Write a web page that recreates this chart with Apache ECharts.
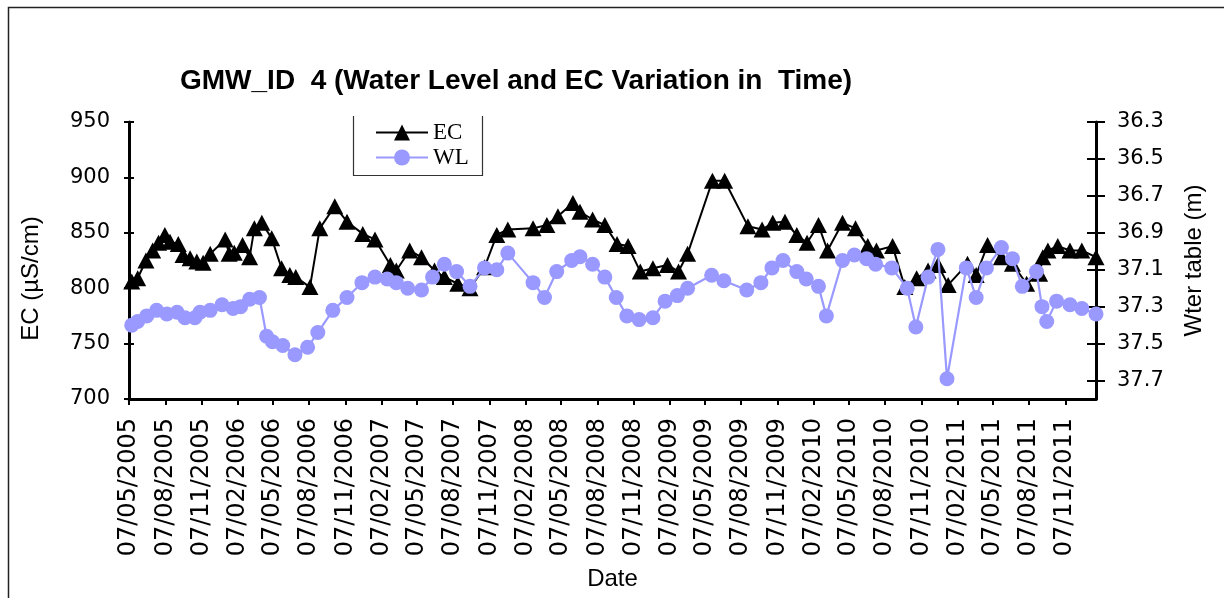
<!DOCTYPE html>
<html><head><meta charset="utf-8">
<script src="https://cdn.jsdelivr.net/npm/echarts@6/dist/echarts.min.js"></script>
<style>html,body{margin:0;padding:0;background:#fff}#c{width:1224px;height:598px}</style>
</head><body><div id="c"></div>
<script>
// ---- data ----
const ecDates = [
'2005-05-14','2005-05-29','2005-06-19','2005-07-06','2005-07-21','2005-08-06','2005-08-19','2005-09-09','2005-09-21','2005-10-09',
'2005-10-26','2005-11-11','2005-11-29','2006-01-06','2006-01-16','2006-01-29','2006-02-19','2006-03-09','2006-03-21','2006-04-09',
'2006-05-04','2006-05-29','2006-06-19','2006-07-04','2006-08-09','2006-09-03','2006-10-11','2006-11-11','2006-12-21','2007-01-21',
'2007-03-01','2007-03-16','2007-04-19','2007-05-19','2007-06-21','2007-07-16','2007-08-19','2007-09-19','2007-10-26','2007-11-26',
'2007-12-24','2008-02-26','2008-04-01','2008-04-29','2008-06-06','2008-06-24','2008-07-26','2008-08-26','2008-09-26','2008-10-24',
'2008-11-24','2008-12-26','2009-02-01','2009-03-01','2009-03-24','2009-05-26','2009-06-26','2009-08-24','2009-09-29','2009-10-26',
'2009-11-26','2009-12-26','2010-01-21','2010-02-19','2010-03-14','2010-04-21','2010-05-24','2010-06-24','2010-07-16','2010-08-26',
'2010-09-26','2010-10-26','2010-11-24','2010-12-19','2011-01-14','2011-03-04','2011-03-26','2011-04-24','2011-05-29','2011-06-26',
'2011-08-01','2011-09-03','2011-09-11','2011-09-24','2011-10-19','2011-11-19','2011-12-19','2012-01-24'];
const ecValues = [
806,809,825,834,841,848,842,840,830,827,
824,823,831,844,831,832,839,828,854,859,
845,818,812,810,801,854,874,860,849,844,
821,816,834,828,816,810,804,800,819,848,
853,854,857,865,877,869,862,857,840,838,
815,818,821,815,831,897,897,856,853,859,
860,848,841,857,834,859,854,838,834,838,
801,809,816,821,803,822,812,839,828,822,
804,813,828,834,838,834,834,828];

const wlDates = [
'2005-05-14','2005-05-29','2005-06-21','2005-07-16','2005-08-11','2005-09-06','2005-09-26','2005-10-21','2005-11-03','2005-11-29',
'2005-12-29','2006-01-26','2006-02-14','2006-03-09','2006-04-03','2006-04-21','2006-05-06','2006-06-01','2006-07-02','2006-08-03',
'2006-08-29','2006-10-06','2006-11-11','2006-12-19','2007-01-21','2007-02-21','2007-03-16','2007-04-14','2007-05-19','2007-06-16',
'2007-07-16','2007-08-16','2007-09-19','2007-10-26','2007-11-26','2007-12-24','2008-02-26','2008-03-26','2008-04-26','2008-06-03',
'2008-06-24','2008-07-26','2008-08-26','2008-09-24','2008-10-21','2008-11-21','2008-12-26','2009-01-26','2009-02-26','2009-03-24',
'2009-05-24','2009-06-24','2009-08-21','2009-09-26','2009-10-24','2009-11-21','2009-12-26','2010-01-19','2010-02-19','2010-03-11',
'2010-04-21','2010-05-21','2010-06-21','2010-07-14','2010-08-24','2010-10-02','2010-10-24','2010-11-24','2010-12-19','2011-01-11',
'2011-03-01','2011-03-26','2011-04-21','2011-05-29','2011-06-26','2011-07-21','2011-08-26','2011-09-09','2011-09-21','2011-10-16',
'2011-11-19','2011-12-19','2012-01-24'];
const wlValues = [
37.40,37.38,37.35,37.32,37.34,37.33,37.36,37.36,37.33,37.32,
37.29,37.31,37.30,37.26,37.25,37.46,37.49,37.51,37.56,37.52,
37.44,37.32,37.25,37.17,37.14,37.15,37.17,37.20,37.21,37.14,
37.07,37.11,37.19,37.09,37.10,37.01,37.17,37.25,37.11,37.05,
37.03,37.07,37.14,37.25,37.35,37.37,37.36,37.27,37.24,37.20,
37.13,37.16,37.21,37.17,37.09,37.05,37.11,37.15,37.19,37.35,
37.05,37.02,37.04,37.07,37.09,37.20,37.41,37.14,36.99,37.69,
37.09,37.25,37.09,36.98,37.04,37.19,37.11,37.30,37.38,37.27,
37.29,37.31,37.34];

const dateTickLabels = [
'07/05/2005','07/08/2005','07/11/2005','07/02/2006','07/05/2006','07/08/2006','07/11/2006',
'07/02/2007','07/05/2007','07/08/2007','07/11/2007','07/02/2008','07/05/2008','07/08/2008',
'07/11/2008','07/02/2009','07/05/2009','07/08/2009','07/11/2009','07/02/2010','07/05/2010',
'07/08/2010','07/11/2010','07/02/2011','07/05/2011','07/08/2011','07/11/2011'];
const wlTickLabels = [36.3, 36.5, 36.7, 36.9, 37.1, 37.3, 37.5, 37.7];
const dateAxisStart = '2005-05-07';
const dateAxisEnd = '2012-01-24';

// ---- helpers ----
function isoTs(s){ const p = s.split('-').map(Number); return Date.UTC(p[0], p[1]-1, p[2]); }
function dmyTs(s){ const p = s.split('/').map(Number); return Date.UTC(p[2], p[1]-1, p[0]); }
function pad(n){ return (n<10?'0':'')+n; }
function fmt(v){ const d = new Date(v); return pad(d.getUTCDate())+'/'+pad(d.getUTCMonth()+1)+'/'+d.getUTCFullYear(); }
const dateTicks = dateTickLabels.map(dmyTs);

const ecData = ecDates.map((d,i)=>[isoTs(d), ecValues[i]]);
const wlData = wlDates.map((d,i)=>[isoTs(d), wlValues[i]]);

const AX = '#000';
const tickFont = {fontFamily:'DejaVu Sans', fontSize:21, color:'#000'};
const nameFont = {fontFamily:'Liberation Sans', fontSize:24, color:'#000'};

const chart = echarts.init(document.getElementById('c'), null, {renderer:'canvas'});
chart.setOption({
  animation:false,
  backgroundColor:'#fff',
  title:{
    text:'GMW_ID  4 (Water Level and EC Variation in  Time)',
    left:175, top:62,
    textStyle:{fontFamily:'Liberation Sans', fontWeight:'bold', fontSize:28, color:'#000'}
  },
  legend:{
    data:['EC','WL'], orient:'vertical', left:375, top:121, padding:0,
    itemWidth:52, itemHeight:20, itemGap:2,
    textStyle:{fontFamily:'Liberation Serif', fontSize:23, color:'#000'}
  },
  grid:{left:129, right:128, top:122, bottom:199, containLabel:false},
  xAxis:{
    type:'value', min:isoTs(dateAxisStart), max:isoTs(dateAxisEnd),
    name:'Date', nameLocation:'middle', nameGap:168, nameTextStyle:nameFont,
    axisLine:{show:true, lineStyle:{color:AX, width:3}},
    axisTick:{show:true, customValues:dateTicks, length:6, lineStyle:{color:AX, width:2}},
    axisLabel:{customValues:dateTicks, rotate:90, formatter:fmt, margin:19,
      fontFamily:'DejaVu Sans', fontSize:24, color:'#000'},
    splitLine:{show:false}
  },
  yAxis:[
    {
      type:'value', position:'left', min:700, max:950, interval:50,
      name:'EC (µS/cm)', nameLocation:'middle', nameRotate:90, nameGap:86,
      nameTextStyle:Object.assign({padding:[0,36,0,0]}, nameFont),
      axisLine:{show:true, lineStyle:{color:AX, width:3}},
      axisTick:{show:true, length:5, lineStyle:{color:AX, width:2}},
      axisLabel:Object.assign({margin:19}, tickFont),
      splitLine:{show:false}
    },
    {
      type:'value', position:'right', inverse:true, min:36.3, max:37.8,
      name:'Wter table (m)', nameLocation:'middle', nameRotate:90, nameGap:86,
      nameTextStyle:nameFont,
      axisLine:{show:true, lineStyle:{color:AX, width:3}},
      axisTick:{show:true, customValues:wlTickLabels, length:9, lineStyle:{color:AX, width:2}},
      axisLabel:Object.assign({customValues:wlTickLabels, margin:21, formatter:v=>Number(v).toFixed(1)}, tickFont),
      splitLine:{show:false}
    },
    {
      type:'value', position:'left', min:700, max:950, interval:50,
      axisLine:{show:false},
      axisTick:{show:true, inside:true, length:5, lineStyle:{color:AX, width:2}},
      axisLabel:{show:false}, splitLine:{show:false}
    },
    {
      type:'value', position:'right', inverse:true, min:36.3, max:37.8,
      axisLine:{show:false},
      axisTick:{show:true, inside:true, customValues:wlTickLabels, length:9, lineStyle:{color:AX, width:2}},
      axisLabel:{show:false}, splitLine:{show:false}
    }
  ],
  graphic:[
    {type:'rect', silent:true, z:-10, shape:{x:8.5, y:7.5, width:1400, height:800},
     style:{fill:null, stroke:'#222', lineWidth:1.5}},
    {type:'polyline', silent:true, shape:{points:[[353.5,116],[353.5,175.5],[482.5,175.5],[482.5,116]]},
     style:{fill:null, stroke:'#333', lineWidth:1.2}}
  ],
  series:[
    {
      name:'EC', type:'line', yAxisIndex:0, data:ecData,
      symbol:'triangle', symbolSize:[17,16], showAllSymbol:true,
      itemStyle:{color:'#000'}, lineStyle:{color:'#000', width:2}, z:2
    },
    {
      name:'WL', type:'line', yAxisIndex:1, data:wlData,
      symbol:'circle', symbolSize:15, showAllSymbol:true,
      itemStyle:{color:'#9999FF'}, lineStyle:{color:'#9999FF', width:2.2}, z:3
    }
  ]
});
</script>
</body></html>
